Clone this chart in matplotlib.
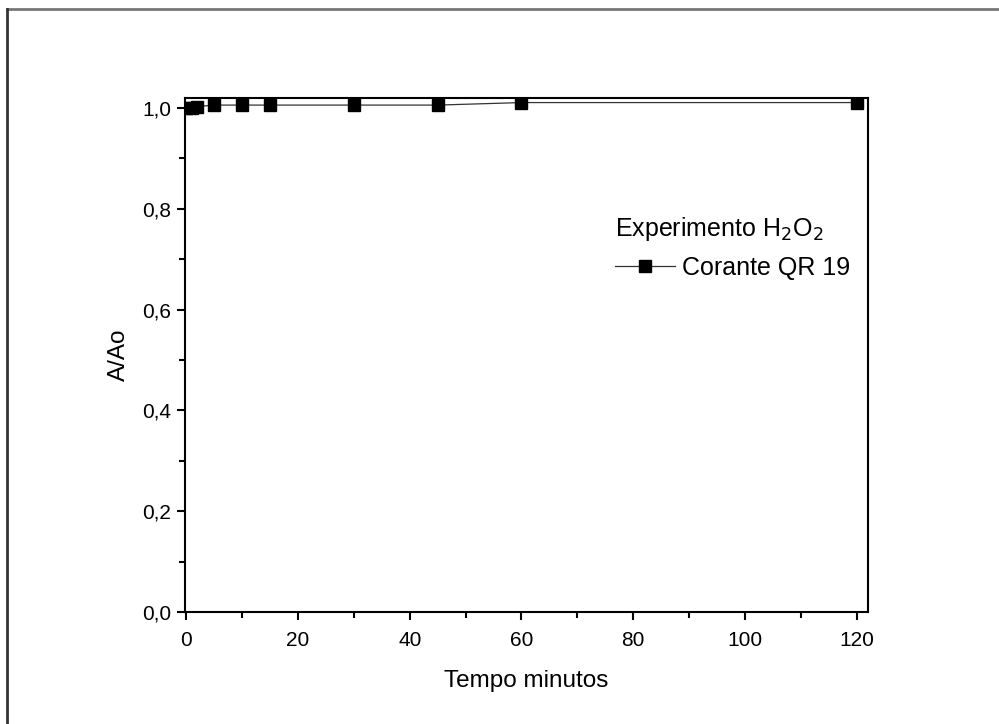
import matplotlib
matplotlib.use('Agg')
import matplotlib.pyplot as plt
from matplotlib.lines import Line2D
from matplotlib.ticker import MultipleLocator, FuncFormatter

plt.rcParams['font.family'] = ['Liberation Sans', 'DejaVu Sans']

# dados
tempo = [0, 1, 2, 5, 10, 15, 30, 45, 60, 120]
a_ao = [1.000, 1.000, 1.003, 1.006, 1.006, 1.006, 1.006, 1.006, 1.011, 1.011]

fig = plt.figure(figsize=(9.99, 7.24), dpi=100)
ax = fig.add_axes([0.1852, 0.1547, 0.6837, 0.7099])

ax.plot(tempo, a_ao, color='#333333', lw=0.9, marker='s', ms=8,
        mfc='black', mec='black', label='Corante QR 19')

ax.set_xlim(-0.2, 122)
ax.set_ylim(0, 1.02)
ax.xaxis.set_major_locator(MultipleLocator(20))
ax.xaxis.set_minor_locator(MultipleLocator(10))
ax.yaxis.set_major_locator(MultipleLocator(0.2))
ax.yaxis.set_minor_locator(MultipleLocator(0.1))
ax.yaxis.set_major_formatter(FuncFormatter(lambda v, p: ('%.1f' % v).replace('.', ',')))

ax.tick_params(which='major', direction='out', length=6, width=1.5, labelsize=15)
ax.tick_params(axis='x', which='major', pad=8)
ax.tick_params(axis='y', which='major', pad=4)
ax.tick_params(which='minor', direction='out', length=4, width=1.5)
for s in ax.spines.values():
    s.set_linewidth(1.5)

ax.set_xlabel('Tempo minutos', fontsize=17.5, labelpad=14)
ax.set_ylabel('A/Ao', fontsize=17.5, labelpad=9)

leg = ax.legend(loc='upper left', bbox_to_anchor=(0.629, 0.772), frameon=False,
                title='Experimento H$_2$O$_2$', title_fontsize=18, fontsize=18,
                handlelength=2.4, handletextpad=0.3, borderpad=0, borderaxespad=0,
                labelspacing=0.2)
leg._legend_box.align = 'left'
leg._legend_box.sep = 9

# moldura da figura
fig.add_artist(Line2D([0.0075, 1], [0.9869, 0.9869], color='#777777', lw=2, transform=fig.transFigure))
fig.add_artist(Line2D([0.0075, 0.0075], [0, 0.9869], color='#333333', lw=2, transform=fig.transFigure))

fig.savefig('out.png', dpi=100)
